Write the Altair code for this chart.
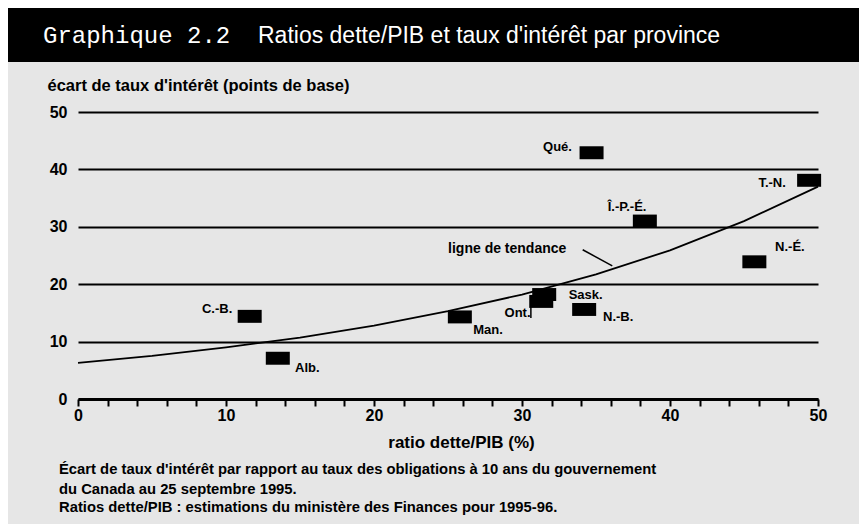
import altair as alt
import pandas as pd

# ---- data ----
provinces = ["C.-B.", "Alb.", "Sask.", "Man.", "Ont.", "Qué.", "N.-B.", "N.-É.", "Î.-P.-É.", "T.-N."]
dette_pib = [11.6, 13.5, 31.5, 25.8, 31.3, 34.7, 34.2, 45.7, 38.3, 49.4]
ecart = [14.4, 7.1, 18.2, 14.3, 17.0, 42.9, 15.6, 23.9, 31.0, 38.1]
label_x = [9.4, 15.5, 34.3, 27.7, 29.7, 32.4, 36.5, 48.1, 37.1, 46.9]
label_y = [15.7, 5.4, 18.1, 12.0, 15.0, 43.9, 14.3, 26.5, 33.4, 37.6]

trend_x = [0, 5, 10, 15, 20, 25, 30, 35, 40, 45, 50]
trend_y = [6.3, 7.5, 9.0, 10.7, 12.8, 15.3, 18.2, 21.7, 25.9, 31.0, 37.0]

trend_label = "ligne de tendance"
trend_label_pos = [29.0, 26.2]
leader_x = [34.1, 36.1]
leader_y = [26.0, 23.2]
ont_bracket_x = [30.6]
ont_bracket_y = [17.1, 14.1]

title_left = "Graphique 2.2"
title_right = "Ratios dette/PIB et taux d'intérêt par province"
y_title = "écart de taux d'intérêt (points de base)"
x_title = "ratio dette/PIB (%)"
notes = [
    "Écart de taux d'intérêt par rapport au taux des obligations à 10 ans du gouvernement",
    "du Canada au 25 septembre 1995.",
    "Ratios dette/PIB : estimations du ministère des Finances pour 1995-96.",
]
x_ticks = list(range(0, 51, 2))
y_ticks = [0, 10, 20, 30, 40, 50]

W, H = 740, 287
FONT = "Liberation Sans"

pts = pd.DataFrame({"prov": provinces, "x": dette_pib, "y": ecart, "lx": label_x, "ly": label_y})
trend = pd.DataFrame({"x": trend_x, "y": trend_y})

x_axis = alt.Axis(
    values=x_ticks,
    labelExpr="datum.value % 10 === 0 ? datum.label : ''",
    labelOverlap=False, labelFlush=False,
    tickSize=7, tickWidth=2, tickColor="black",
    domainColor="black", domainWidth=3,
    labelFont=FONT, labelFontSize=16, labelFontWeight="bold", labelColor="black", labelPadding=1,
    grid=False,
    title=x_title, titleFont=FONT, titleFontSize=17, titleFontWeight="bold", titleColor="black",
    titleX=383, titleY=43, titleAlign="center", titleBaseline="middle",
)
y_axis = alt.Axis(
    values=y_ticks, grid=True, gridColor="black", gridWidth=2,
    domain=False, ticks=False,
    labelFont=FONT, labelFontSize=16, labelFontWeight="bold", labelColor="black", labelPadding=11,
    title=y_title, titleFont=FONT, titleFontSize=16.5, titleFontWeight="bold", titleColor="black",
    titleAngle=0, titleAlign="left", titleBaseline="middle", titleX=-31, titleY=-27,
)
xs = alt.Scale(domain=[0, 50], nice=False)
ys = alt.Scale(domain=[0, 50], nice=False)

def X(f):
    return alt.X(f, type="quantitative", scale=xs, axis=x_axis)

def Y(f):
    return alt.Y(f, type="quantitative", scale=ys, axis=y_axis)

trend_line = alt.Chart(trend).mark_line(color="black", strokeWidth=1.8).encode(x=X("x"), y=Y("y"))

rect_shape = "M-1,-0.54H1V0.54H-1Z"
points = alt.Chart(pts).mark_point(shape=rect_shape, size=576, filled=True, color="black", opacity=1).encode(
    x=X("x"), y=Y("y")
)
labels = alt.Chart(pts).mark_text(font=FONT, fontSize=13, fontWeight="bold", color="black").encode(
    x=X("lx"), y=Y("ly"), text="prov:N"
)

tl = pd.DataFrame({"x": [trend_label_pos[0]], "y": [trend_label_pos[1]], "t": [trend_label]})
trend_text = alt.Chart(tl).mark_text(font=FONT, fontSize=14, fontWeight="bold", color="black").encode(
    x=X("x"), y=Y("y"), text="t:N"
)
ld = pd.DataFrame({"x": [leader_x[0]], "x2": [leader_x[1]], "y": [leader_y[0]], "y2": [leader_y[1]]})
leader = alt.Chart(ld).mark_rule(color="black", strokeWidth=1.5).encode(
    x=X("x"), x2="x2", y=Y("y"), y2="y2"
)
ob = pd.DataFrame({"x": ont_bracket_x, "y": [ont_bracket_y[0]], "y2": [ont_bracket_y[1]]})
bracket = alt.Chart(ob).mark_rule(color="black", strokeWidth=1.5).encode(x=X("x"), y=Y("y"), y2="y2")

one = pd.DataFrame({"k": [0]})
bar = alt.Chart(one).mark_rect(color="black").encode(
    x=alt.value(-70), x2=alt.value(781), y=alt.value(-104), y2=alt.value(-50)
)
t1 = alt.Chart(one).mark_text(font="Liberation Mono", fontSize=24, color="white", align="left", baseline="middle").encode(
    x=alt.value(-35), y=alt.value(-76), text=alt.value(title_left)
)
t2 = alt.Chart(one).mark_text(font=FONT, fontSize=23, color="white", align="left", baseline="middle").encode(
    x=alt.value(180), y=alt.value(-76), text=alt.value(title_right)
)
note_layers = [
    alt.Chart(one).mark_text(font=FONT, fontSize=14.8, fontWeight="bold", color="black",
                             align="left", baseline="middle").encode(
        x=alt.value(-19), y=alt.value(yy), text=alt.value(t)
    )
    for t, yy in zip(notes, [358, 378, 396])
]

chart = alt.layer(
    trend_line, points, labels, trend_text, leader, bracket, bar, t1, t2, *note_layers
).properties(
    width=W, height=H,
    background="#e6e6e6",
    autosize=alt.AutoSizeParams(type="none"),
    padding={"left": 70, "top": 104, "right": 41, "bottom": 125},
).configure_view(strokeWidth=0)

chart.save("out.html", embed_options={"renderer": "svg", "actions": False})
